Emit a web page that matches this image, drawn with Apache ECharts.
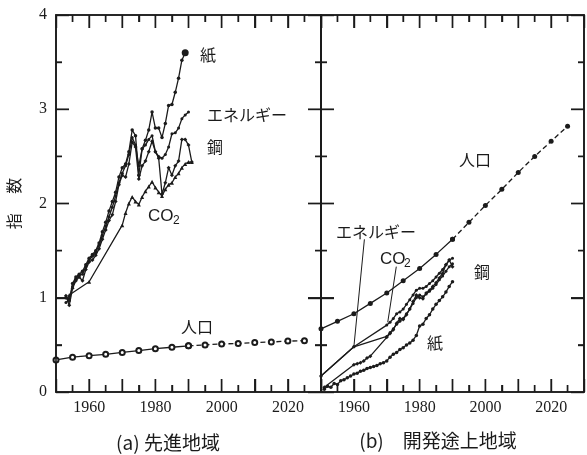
<!DOCTYPE html>
<html>
<head>
<meta charset="utf-8" />
<title>指数の推移</title>
<script src="https://cdn.jsdelivr.net/npm/echarts@6.0.0/dist/echarts.min.js"></script>
<style>
	html, body { margin: 0; padding: 0; background: #fff; }
	#main { width: 587px; height: 455px; }
</style>
</head>
<body>
<div id="main"></div>
<script type="text/javascript">
	// (a) 先進地域 -- 年ごとの値
	var yearsA = [1953, 1954, 1955, 1956, 1957, 1958, 1959, 1960, 1961, 1962, 1963, 1964, 1965,
		1966, 1967, 1968, 1969, 1970, 1971, 1972, 1973, 1974, 1975, 1976, 1977, 1978, 1979,
		1980, 1981, 1982, 1983, 1984, 1985, 1986, 1987, 1988, 1989, 1990, 1991];
	var paperA = [1.00, 0.97, 1.15, 1.22, 1.25, 1.28, 1.35, 1.42, 1.46, 1.50, 1.58, 1.70, 1.80,
		1.92, 2.02, 2.12, 2.28, 2.38, 2.42, 2.55, 2.78, 2.72, 2.30, 2.58, 2.67, 2.78, 2.97,
		2.80, 2.80, 2.70, 2.85, 3.04, 3.05, 3.18, 3.33, 3.52, 3.60, null, null];
	var energyA = [0.95, 0.98, 1.12, 1.20, 1.24, 1.25, 1.33, 1.40, 1.44, 1.48, 1.56, 1.66, 1.76,
		1.86, 1.96, 2.08, 2.22, 2.32, 2.40, 2.52, 2.70, 2.62, 2.40, 2.58, 2.62, 2.68, 2.72,
		2.55, 2.50, 2.48, 2.52, 2.60, 2.74, 2.75, 2.80, 2.90, 2.94, 2.97, null];
	var steelA = [1.02, 0.92, 1.10, 1.18, 1.22, 1.18, 1.30, 1.38, 1.40, 1.45, 1.52, 1.62, 1.72,
		1.82, 1.88, 2.02, 2.20, 2.30, 2.28, 2.42, 2.65, 2.60, 2.26, 2.40, 2.45, 2.55, 2.66,
		2.55, 2.48, 2.10, 2.22, 2.38, 2.30, 2.40, 2.45, 2.68, 2.68, 2.62, 2.44];
	var co2A = [null, 1.03, null, null, null, null, null, 1.17, null, null, null, null, null,
		null, null, null, null, 1.77, 1.90, 2.00, 2.07, 2.02, 1.99, 2.07, 2.13, 2.18, 2.23,
		2.17, 2.12, 2.08, 2.15, 2.20, 2.22, 2.28, 2.32, 2.38, 2.42, 2.44, 2.44];

	// (b) 開発途上地域
	var yearsB = [1950, 1951, 1952, 1953, 1954, 1955, 1956, 1957, 1958, 1959, 1960, 1961, 1962,
		1963, 1964, 1965, 1966, 1967, 1968, 1969, 1970, 1971, 1972, 1973, 1974, 1975, 1976,
		1977, 1978, 1979, 1980, 1981, 1982, 1983, 1984, 1985, 1986, 1987, 1988, 1989, 1990];
	var energyB = [0.17, null, null, null, null, null, null, null, null, null, 0.48, null, null,
		null, null, null, null, null, null, null, 0.71, 0.74, 0.78, 0.83, 0.85, 0.88, 0.93,
		0.98, 1.03, 1.08, 1.10, 1.10, 1.12, 1.15, 1.18, 1.22, 1.26, 1.30, 1.35, 1.40, 1.42];
	var co2B = [0.17, null, null, null, null, null, null, null, null, null, 0.48, null, null,
		null, null, null, null, null, null, null, 0.59, 0.63, 0.67, 0.72, 0.75, 0.78, 0.83,
		0.88, 0.94, 1.00, 1.03, 1.01, 1.04, 1.07, 1.10, 1.14, 1.19, 1.23, 1.28, 1.33, 1.36];
	var steelB = [null, 0.05, null, null, null, null, null, null, null, null, 0.29, 0.30, 0.31,
		0.33, 0.36, 0.38, null, null, null, null, 0.58, 0.62, 0.66, 0.73, 0.78, 0.77, 0.82,
		0.88, 0.96, 1.03, 1.00, 0.99, 1.05, 1.08, 1.12, 1.16, 1.21, 1.26, 1.35, 1.40, 1.33];
	var paperB = [null, 0.03, 0.06, 0.05, 0.09, 0.08, 0.12, 0.13, 0.15, 0.17, 0.19, 0.20, 0.22,
		0.23, 0.25, 0.26, 0.27, 0.28, 0.30, 0.31, 0.33, 0.37, 0.40, 0.42, 0.45, 0.47, 0.50,
		0.52, 0.55, 0.60, 0.70, 0.72, 0.78, 0.82, 0.88, 0.93, 0.97, 1.01, 1.06, 1.12, 1.17];

	// 人口 (1990年以降は推計 = 破線)
	var popYears = [1950, 1955, 1960, 1965, 1970, 1975, 1980, 1985, 1990, 1995, 2000, 2005, 2010, 2015, 2020, 2025];
	var popA = [0.34, 0.37, 0.385, 0.40, 0.42, 0.44, 0.46, 0.475, 0.49, 0.50, 0.51, 0.515, 0.525, 0.53, 0.54, 0.545];
	var popB = [0.67, 0.75, 0.83, 0.94, 1.05, 1.18, 1.31, 1.46, 1.62, 1.80, 1.98, 2.15, 2.33, 2.50, 2.66, 2.82];
	var popSplitYear = 1990;

	// (b) の引き出し線 (ラベル側 -> 曲線側, 年・指数)
	var leaderEnergyB = [[1963.2, 1.62], [1960, 0.48]];
	var leaderCo2B = [[1972.9, 1.33], [1970.3, 0.74]];

	// 目盛り
	var xMin = 1950, xMax = 2030, xMajor = 10, xMinor = 5;
	var yMin = 0, yMax = 4, yMajor = 1, yMinor = 0.5;

	var INK = '#1b1b1b';
	var SERIF = 'Liberation Serif';
	var JP = 'Noto Sans CJK JP';

	function pts(xs, ys, from, to) {
		var out = [];
		for (var i = 0; i < xs.length; i++) {
			if (ys[i] == null) continue;
			if (from != null && xs[i] < from) continue;
			if (to != null && xs[i] > to) continue;
			out.push([xs[i], ys[i]]);
		}
		return out;
	}

	function frameParts(majorLen, minorLen) {
		return {
			axisLine: { show: true, onZero: false, lineStyle: { color: INK, width: 1.6 } },
			axisTick: { show: true, inside: true, length: majorLen, lineStyle: { color: INK, width: 1.4 } },
			minorTick: { show: true, splitNumber: 2, length: minorLen, lineStyle: { color: INK, width: 1.4 } },
			splitLine: { show: false }
		};
	}

	function xa(g, pos, lab) {
		var f = frameParts(13, 7);
		var a = {
			type: 'value', gridIndex: g, position: pos, min: xMin, max: xMax, interval: xMajor,
			axisLabel: lab ? {
				show: true, color: INK, fontFamily: SERIF, fontSize: 16, margin: 8,
				formatter: function(v) { return v % 20 === 0 ? String(v) : ''; }
			} : { show: false }
		};
		for (var k in f) a[k] = f[k];
		return a;
	}

	function ya(g, pos, lab) {
		var f = frameParts(13, 6);
		var a = {
			type: 'value', gridIndex: g, position: pos, min: yMin, max: yMax, interval: yMajor,
			axisLabel: lab ? { show: true, color: INK, fontFamily: SERIF, fontSize: 16, margin: 9 } : { show: false }
		};
		for (var k in f) a[k] = f[k];
		if (lab) {
			a.name = '指\u3000 数';
			a.nameLocation = 'middle';
			a.nameRotate = 90;
			a.nameGap = 34;
			a.nameTextStyle = { color: INK, fontFamily: JP, fontSize: 16 };
		}
		return a;
	}

	function line(xi, yi, data, symbol, size, dash) {
		return {
			type: 'line', xAxisIndex: xi, yAxisIndex: yi, data: data,
			symbol: symbol, symbolSize: size,
			lineStyle: { color: INK, width: 1.3, type: dash ? [5, 3] : 'solid' },
			itemStyle: { color: INK }
		};
	}

	function leaderLine(xi, yi, data) {
		return {
			type: 'line', xAxisIndex: xi, yAxisIndex: yi, data: data, silent: true,
			symbol: 'none', lineStyle: { color: INK, width: 1 }
		};
	}

	function label(x, y, text, size, family, align) {
		return { type: 'text', x: x, y: y, z: 20, style: { text: text, fontSize: size, fontFamily: family, fill: INK, align: align || 'center', verticalAlign: 'middle' } };
	}

	var paperAPts = pts(yearsA, paperA);
	var paperAEnd = [paperAPts[paperAPts.length - 1]];

	var labels = [
		label(208, 55, '紙', 16, JP),
		label(247, 115, 'エネルギー', 16, JP),
		label(215, 147, '鋼', 16, JP),
		label(148, 216, 'CO', 17, 'Liberation Sans', 'left'),
		label(173, 221, '2', 12, 'Liberation Sans', 'left'),
		label(197, 327, '人口', 16, JP),
		label(475, 160, '人口', 16, JP),
		label(376, 232, 'エネルギー', 16, JP),
		label(380, 259, 'CO', 17, 'Liberation Sans', 'left'),
		label(404, 264, '2', 12, 'Liberation Sans', 'left'),
		label(482, 272, '鋼', 16, JP),
		label(435, 343, '紙', 16, JP),
		label(168, 443, '(a) 先進地域', 19, JP),
		label(438, 441, '(b)\u3000開発途上地域', 19, JP)
	];

	var option = {
		animation: false,
		backgroundColor: '#fff',
		grid: [
			{ left: 56, top: 15, width: 265, height: 377 },
			{ left: 321, top: 15, width: 263, height: 377 }
		],
		xAxis: [xa(0, 'bottom', true), xa(0, 'top', false), xa(1, 'bottom', true), xa(1, 'top', false)],
		yAxis: [ya(0, 'left', true), ya(0, 'right', false), ya(1, 'left', false), ya(1, 'right', false)],
		series: [
			// (a) 先進地域
			line(0, 0, pts(yearsA, co2A), 'triangle', 4),
			line(0, 0, pts(yearsA, steelA), 'diamond', 4),
			line(0, 0, pts(yearsA, energyA), 'circle', 3),
			line(0, 0, paperAPts, 'circle', 3.5),
			line(0, 0, paperAEnd, 'circle', 7),
			line(0, 0, pts(popYears, popA, null, popSplitYear), 'emptyCircle', 5),
			line(1, 1, pts(popYears, popA, popSplitYear, null), 'emptyCircle', 5, true),
			// (b) 開発途上地域
			line(2, 2, pts(yearsB, paperB), 'circle', 3.5),
			line(2, 2, pts(yearsB, steelB), 'diamond', 4),
			line(2, 2, pts(yearsB, co2B), 'circle', 3),
			line(2, 2, pts(yearsB, energyB), 'circle', 3),
			leaderLine(2, 2, leaderCo2B),
			leaderLine(2, 2, leaderEnergyB),
			line(2, 2, pts(popYears, popB, null, popSplitYear), 'circle', 5),
			line(3, 3, pts(popYears, popB, popSplitYear, null), 'circle', 5, true)
		],
		graphic: labels
	};

	var myChart = echarts.init(document.getElementById('main'));
	myChart.setOption(option);

	// 枠と内向きの目盛りを、各グリッドの座標変換から描き足す
	function seg(x1, y1, x2, y2, w) {
		return { type: 'line', z: 15, silent: true, shape: { x1: x1, y1: y1, x2: x2, y2: y2 }, style: { stroke: INK, lineWidth: w } };
	}
	var frame = [];
	[0, 1].forEach(function(g) {
		var lo = myChart.convertToPixel({ gridIndex: g }, [xMin, yMin]);
		var hi = myChart.convertToPixel({ gridIndex: g }, [xMax, yMax]);
		if (!lo || !hi) return;
		frame.push({ type: 'rect', z: 15, silent: true,
			shape: { x: lo[0], y: hi[1], width: hi[0] - lo[0], height: lo[1] - hi[1] },
			style: { fill: null, stroke: INK, lineWidth: 1.6 } });
		for (var yr = xMin + xMinor; yr < xMax; yr += xMinor) {
			var px = myChart.convertToPixel({ gridIndex: g }, [yr, yMin])[0];
			var lenX = (yr - xMin) % xMajor === 0 ? 13 : 7;
			frame.push(seg(px, lo[1], px, lo[1] - lenX, 1.4));
			frame.push(seg(px, hi[1], px, hi[1] + lenX, 1.4));
		}
		for (var v = yMin + yMinor; v < yMax; v += yMinor) {
			var py = myChart.convertToPixel({ gridIndex: g }, [xMin, v])[1];
			var lenY = Math.abs(v - Math.round(v)) < 1e-9 ? 13 : 6;
			frame.push(seg(lo[0], py, lo[0] + lenY, py, 1.4));
			frame.push(seg(hi[0], py, hi[0] - lenY, py, 1.4));
		}
	});
	myChart.setOption({ graphic: labels.concat(frame) });
</script>
</body>
</html>
